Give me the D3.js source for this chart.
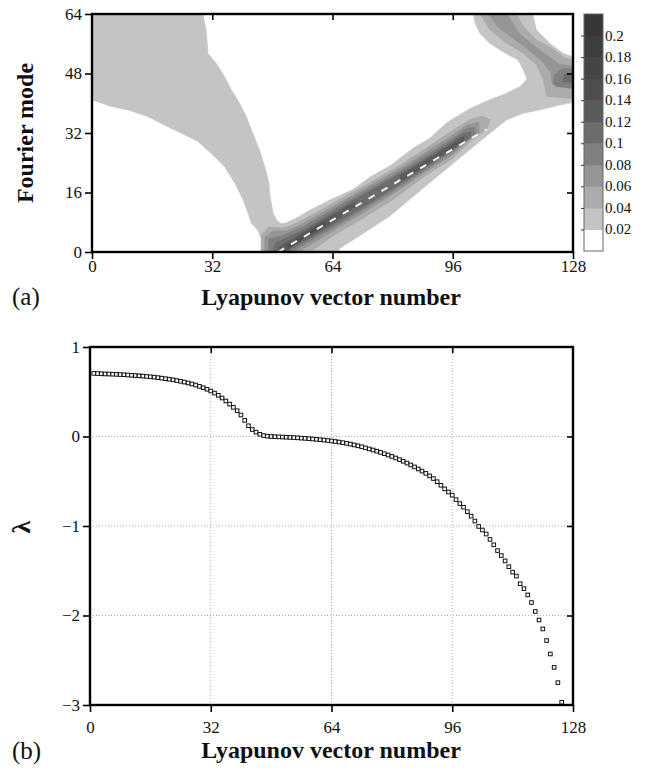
<!DOCTYPE html>
<html lang="en">
<head>
<meta charset="utf-8">
<title>Lyapunov vectors</title>
<script type="text/javascript" src="https://cdn.jsdelivr.net/npm/d3@7"></script>
<style type="text/css">
  body { margin:0; background:#fff; }
</style>
</head>
<body>
<svg id="fig" width="647" height="768"></svg>
<script type="text/javascript">
// ---------- data ----------
var xTicks = [0,32,64,96,128];
var modeTicks = [0,16,32,48,64];
var lamTicks = [1,0,-1,-2,-3];
var cbLevels = [0,0.02,0.04,0.06,0.08,0.1,0.12,0.14,0.16,0.18,0.2,0.22];
var cbLabels = ["0.02","0.04","0.06","0.08","0.1","0.12","0.14","0.16","0.18","0.2"];
var cbColors = ["#ffffff","#c4c4c4","#ababab","#959595","#808080","#6c6c6c","#5a5a5a","#4e4e4e","#454545","#3e3e3e","#373737"];

// contour regions of panel (a): [vector number, Fourier mode], level index into cbColors
var band1 = [[0,64],[29.5,64],[30.4,59.7],[30.9,53.4],[33.1,50.7],[35.3,47.1],[37.1,43.6],[39.3,40],[41.1,36.4],[42.8,31.9],[44.6,27.4],[46,22.9],[47.1,18.5],[47.4,14.9],[48.2,10.5],[49.2,8.5],[50.5,7.6],[52,8],[55,9.5],[58,11.3],[63.3,14],[69.5,16.9],[74,20.2],[79.3,23.2],[85.5,28],[89.9,30.6],[94.4,34.8],[100.6,38.6],[105,40.6],[110.3,42.7],[114,44.6],[115.7,46.5],[114.8,48.9],[113.4,51.6],[111.2,52.8],[108.6,54.3],[105.9,56.1],[103.2,58.8],[101.9,61.5],[101.5,64],[117.3,64],[118.3,59.7],[121.9,56.1],[125.4,53.4],[128,52.5],[128,40.2],[124.5,39.5],[119.2,38.2],[114.8,37.3],[110.3,35.5],[105.9,31.9],[101.5,28.3],[96.1,23.8],[90.8,19.4],[85.5,14.9],[79.3,9.7],[72.2,5],[66,1],[65.5,0],[45.8,0],[45.3,3],[44,6],[42.4,7.7],[41.5,10.4],[40.2,14],[38,18.5],[35.3,22.9],[31.7,26.5],[28.2,29.7],[23.8,31.9],[19.3,34.1],[14.9,36.4],[9.6,38.2],[5.1,39.1],[0,40.9]];
var ridge2 = [[45,0],[45,4.5],[47,6.8],[50,6.5],[52,6.8],[56,8.6],[64,13.1],[72,17.6],[80,22.2],[88,27.3],[96,32.8],[101,35.8],[104,36.6],[106,35.5],[105,33],[101,30],[96,25.2],[88,20],[80,14],[72,9],[64,4.2],[58,0]];
var ridge3 = [[46,0],[46,4],[48,5.6],[52,5.8],[56,7.6],[64,12.2],[72,16.8],[80,21.4],[88,26.3],[96,31.5],[100,34.3],[103,34.8],[103,32.2],[100,30],[96,26.2],[88,21],[80,15.5],[72,10.4],[64,5.6],[57,1.3],[55,0]];
var ridge4 = [[47,0],[47,3.6],[50,4.2],[56,6.7],[64,11.4],[72,16.1],[80,20.6],[88,25.5],[96,30.6],[100,33.4],[102,33.5],[102,31.5],[96,26.9],[88,21.6],[80,16.3],[72,11.3],[64,6.4],[56,1.8],[53,0]];
var ridge5 = [[48,0],[49,2.6],[56,5.8],[64,10.6],[72,15.3],[80,19.9],[88,24.7],[96,29.8],[99,32],[101,32.3],[100.5,30.8],[96,27.5],[88,22.2],[80,17],[72,12],[64,7.1],[56,2.5],[51.5,0]];
var ridge6a = [[49.5,0],[50,1.5],[56,5.1],[64,9.9],[70,13.4],[70,12.2],[64,7.8],[56,3.1],[51,0]];
var ridge6b = [[82,20.6],[88,24.1],[96,29.1],[99,31.2],[99,29.8],[96,27.9],[88,22.7],[82,18.9]];
var ridge7 = [[52,1.8],[56,4.4],[62,8.1],[62,7.3],[56,3.6],[52.5,1.2]];
var branch2 = [[103.2,64],[105.9,59.7],[110.4,56.1],[114.8,53.4],[118.3,50.3],[120.1,46.2],[121,41.8],[128,41.3],[128,51.6],[125.4,52.5],[121.9,55.2],[118.3,57],[114.8,60.6],[113,64]];
var branch3 = [[105.5,64],[108,60.5],[112,57.5],[116,54.5],[119.5,51.5],[122,48.5],[122.5,45],[128,44.5],[128,50],[124.5,50.5],[121,53],[117,56],[113.5,59],[110.5,64]];
var branch4 = [[122.8,45.5],[123.5,44.5],[128,44],[128,49.5],[125,49.2],[123,47.5]];
var branch5 = [[125,45.8],[128,45.5],[128,48.2],[125.8,47.8]];
var regions = [
  {pts:band1, lev:1}, {pts:ridge2, lev:2}, {pts:branch2, lev:2},
  {pts:ridge3, lev:3}, {pts:branch3, lev:3}, {pts:ridge4, lev:4}, {pts:branch4, lev:4},
  {pts:ridge5, lev:5}, {pts:branch5, lev:5}, {pts:ridge6a, lev:6}, {pts:ridge6b, lev:6},
  {pts:ridge7, lev:7}
];
var fitLine = [[49.5,0],[105,33]];

// panel (b): Lyapunov exponents for vectors 1..128
var lambda = [
 0.705,0.703,0.701,0.699,0.698,0.696,0.694,0.692,0.690,0.687,
 0.684,0.681,0.678,0.675,0.671,0.667,0.663,0.658,0.652,0.646,
 0.640,0.633,0.625,0.617,0.608,0.598,0.587,0.575,0.560,0.545,
 0.528,0.508,0.485,0.460,0.430,0.397,0.362,0.326,0.288,0.240,
 0.180,0.120,0.078,0.048,0.025,0.010,0.004,0.000,-0.002,-0.004,
 -0.006,-0.008,-0.010,-0.012,-0.015,-0.018,-0.021,-0.024,-0.028,-0.032,
 -0.036,-0.040,-0.045,-0.050,-0.056,-0.062,-0.069,-0.077,-0.085,-0.094,
 -0.104,-0.115,-0.127,-0.139,-0.151,-0.164,-0.178,-0.192,-0.207,-0.223,
 -0.240,-0.258,-0.277,-0.297,-0.318,-0.340,-0.363,-0.387,-0.412,-0.440,
 -0.470,-0.505,-0.545,-0.585,-0.620,-0.655,-0.705,-0.750,-0.790,-0.840,
 -0.890,-0.945,-1.005,-1.045,-1.090,-1.150,-1.210,-1.275,-1.330,-1.390,
 -1.455,-1.515,-1.560,-1.645,-1.700,-1.770,-1.855,-1.955,-2.050,-2.150,
 -2.280,-2.430,-2.580,-2.750,-2.970,-3.250,-3.600,-4.100];

// ---------- drawing ----------
var serif = "'Liberation Serif', 'Times New Roman', 'DejaVu Serif', serif";
var svg = d3.select("#fig");
var minus = function(d){ return d < 0 ? "\u2212" + Math.abs(d) : String(d); };

function label(x, y, txt, size, bold, anchor, rot){
  var t = svg.append("text")
    .attr("font-family",serif)
    .attr("font-size",size+"px")
    .attr("font-weight",bold ? "bold" : "normal")
    .attr("fill","#111")
    .attr("text-anchor",anchor || "start")
    .text(txt);
  if (rot) { t.attr("transform","translate("+x+","+y+") rotate("+rot+")"); }
  else { t.attr("x",x).attr("y",y); }
  return t;
}

/////////  PANEL A  ////////////////////////////////////////////////
var xA = d3.scaleLinear().domain([0,128]).range([92,573]);
var yA = d3.scaleLinear().domain([0,64]).range([252,14]);

svg.append("clipPath").attr("id","clipA").append("rect")
  .attr("x",92).attr("y",14).attr("width",481).attr("height",238);

var poly = d3.line().x(d=>xA(d[0])).y(d=>yA(d[1]));
var gA = svg.append("g").attr("clip-path","url(#clipA)");
gA.selectAll("path.region")
  .data(regions)
  .enter()
  .append("path")
  .attr("class","region")
  .attr("d",d=>poly(d.pts)+"Z")
  .attr("fill",d=>cbColors[d.lev])
  .attr("stroke",d=>cbColors[d.lev])
  .attr("stroke-width",0.5);

gA.append("path")
  .attr("d",poly(fitLine))
  .attr("stroke","#f2f2f2")
  .attr("stroke-width",2)
  .attr("stroke-dasharray","7,8")
  .attr("fill","none");

function frame(x, y){
  svg.append("rect")
    .attr("x",x.range()[0]).attr("y",y.range()[1])
    .attr("width",x.range()[1]-x.range()[0])
    .attr("height",y.range()[0]-y.range()[1])
    .attr("fill","none").attr("stroke","#000").attr("stroke-width",2.4);
}

function axes(x, y, yTicks, yFmt, yInner, xPad){
  var b = svg.append("g").attr("transform","translate(0,"+y.range()[0]+")")
    .call(d3.axisBottom(x).tickValues(xTicks).tickSize(7).tickPadding(xPad));
  var l = svg.append("g").attr("transform","translate("+x.range()[0]+",0)")
    .call(d3.axisLeft(y).tickValues(yTicks).tickFormat(yFmt).tickSize(7).tickPadding(3));
  var t = svg.append("g").attr("transform","translate(0,"+y.range()[1]+")")
    .call(d3.axisTop(x).tickValues([32,64,96]).tickSize(-6).tickFormat(""));
  var r = svg.append("g").attr("transform","translate("+x.range()[1]+",0)")
    .call(d3.axisRight(y).tickValues(yInner).tickSize(-6).tickFormat(""));
  [b,l,t,r].forEach(function(g){
    g.attr("font-family",serif).attr("font-size",17);
    g.select(".domain").remove();
    g.selectAll(".tick line").attr("stroke","#000").attr("stroke-width",1.6);
    g.selectAll(".tick text").attr("fill","#111");
  });
}

frame(xA, yA);
axes(xA, yA, modeTicks, d3.format("d"), [16,32,48], 1);

// colour bar
var cbY = d3.scaleLinear().domain([0,0.22]).range([251,14]);
svg.selectAll("rect.cb")
  .data(cbColors)
  .enter()
  .append("rect")
  .attr("class","cb")
  .attr("x",584).attr("width",19)
  .attr("y",(d,i)=>cbY(cbLevels[i+1]))
  .attr("height",(d,i)=>cbY(cbLevels[i])-cbY(cbLevels[i+1])+0.5)
  .attr("fill",d=>d);
svg.append("rect").attr("x",584).attr("y",14).attr("width",19).attr("height",237)
  .attr("fill","none").attr("stroke","#666").attr("stroke-width",1);
var cbAxis = svg.append("g").attr("transform","translate(584,0)")
  .call(d3.axisLeft(cbY).tickValues(cbLevels.slice(1,11)).tickSize(3).tickFormat(""));
cbAxis.select(".domain").remove();
cbAxis.selectAll(".tick line").attr("stroke","#333");
svg.selectAll("text.cbl")
  .data(cbLabels)
  .enter()
  .append("text")
  .attr("class","cbl")
  .attr("font-family",serif)
  .attr("font-size","15px")
  .attr("fill","#111")
  .attr("x",605)
  .attr("y",(d,i)=>cbY(cbLevels[i+1])+5)
  .text(d=>d);

label(33,133,"Fourier mode",24,true,"middle",-90);
label(331,305,"Lyapunov vector number",24,true,"middle");
label(12,305,"(a)",25,false);

/////////  PANEL B  ////////////////////////////////////////////////
var xB = d3.scaleLinear().domain([0,128]).range([90,573]);
var yB = d3.scaleLinear().domain([-3,1]).range([705,347]);

svg.append("clipPath").attr("id","clipB").append("rect")
  .attr("x",90).attr("y",347).attr("width",483).attr("height",358);

var grid = svg.append("g").attr("stroke","#9a9a9a").attr("stroke-width",0.8)
  .attr("stroke-dasharray","1,2");
grid.selectAll("line.gx").data([32,64,96]).enter().append("line")
  .attr("x1",d=>xB(d)).attr("x2",d=>xB(d)).attr("y1",347).attr("y2",705);
grid.selectAll("line.gy").data([0,-1,-2]).enter().append("line")
  .attr("y1",d=>yB(d)).attr("y2",d=>yB(d)).attr("x1",90).attr("x2",573);

svg.append("g").attr("clip-path","url(#clipB)")
  .selectAll("rect.pt")
  .data(lambda)
  .enter()
  .append("rect")
  .attr("class","pt")
  .attr("x",(d,i)=>xB(i+1)-1.8)
  .attr("y",d=>yB(d)-1.8)
  .attr("width",3.6).attr("height",3.6)
  .attr("fill","#fff").attr("stroke","#111").attr("stroke-width",1);

frame(xB, yB);
axes(xB, yB, lamTicks, minus, [0,-1,-2], 9);

label(30,527,"\u03bb",26,true,"middle",-90);
label(331,758,"Lyapunov vector number",24,true,"middle");
label(12,759,"(b)",25,false);
</script>
</body>
</html>
